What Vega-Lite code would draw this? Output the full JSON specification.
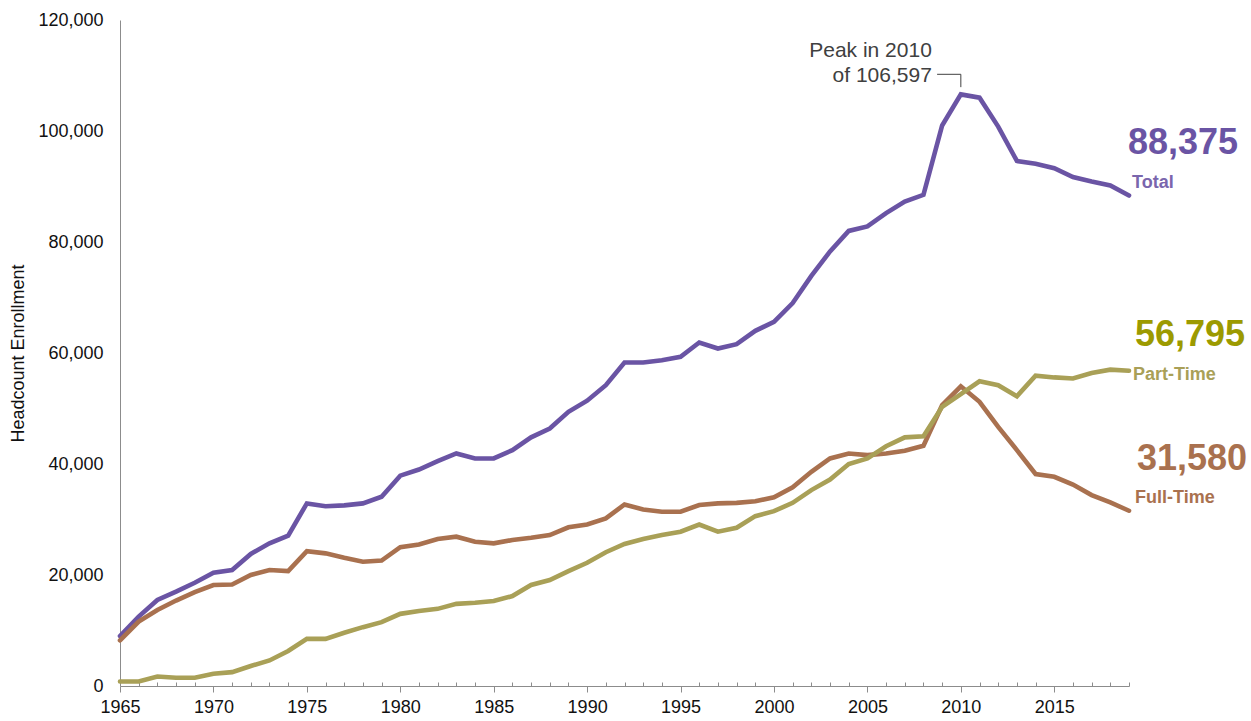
{
  "$schema": "https://vega.github.io/schema/vega-lite/v6.json",
  "autosize": {"type": "none"},
  "width": 1009,
  "height": 666,
  "padding": {"left": 120, "top": 20, "right": 122, "bottom": 35},
  "background": "white",
  "config": {
    "view": {"stroke": null},
    "font": "Liberation Sans",
    "axis": {"grid": false, "domainColor": "#8c8c8c", "domainWidth": 1, "labelColor": "#111111", "labelFontSize": 18, "labelFont": "Liberation Sans", "titleFont": "Liberation Sans"},
    "axisX": {"labelPadding": 6, "labelOverlap": false, "labelFlush": false, "tickColor": "#8c8c8c", "tickWidth": 1, "labelFontSize": 18},
    "axisY": {"labelPadding": 17, "ticks": false, "titleFontSize": 18, "titleFontWeight": "normal", "titleColor": "#111111", "labelFontSize": 18, "format": ","},
    "style": {"guide-label": {"fontSize": 18, "font": "Liberation Sans", "fill": "#111111"}, "guide-title": {"fontSize": 18, "font": "Liberation Sans", "fontWeight": "normal"}}
  },
  "datasets": {
    "enroll": [
      {"year":1965,"series":"Total","value":9000},{"year":1966,"series":"Total","value":12500},{"year":1967,"series":"Total","value":15500},{"year":1968,"series":"Total","value":17000},{"year":1969,"series":"Total","value":18600},{"year":1970,"series":"Total","value":20400},{"year":1971,"series":"Total","value":20900},{"year":1972,"series":"Total","value":23800},{"year":1973,"series":"Total","value":25700},{"year":1974,"series":"Total","value":27100},{"year":1975,"series":"Total","value":32900},{"year":1976,"series":"Total","value":32400},{"year":1977,"series":"Total","value":32550},{"year":1978,"series":"Total","value":32900},{"year":1979,"series":"Total","value":34100},{"year":1980,"series":"Total","value":37900},{"year":1981,"series":"Total","value":39000},{"year":1982,"series":"Total","value":40500},{"year":1983,"series":"Total","value":41900},{"year":1984,"series":"Total","value":41000},{"year":1985,"series":"Total","value":41000},{"year":1986,"series":"Total","value":42500},{"year":1987,"series":"Total","value":44800},{"year":1988,"series":"Total","value":46400},{"year":1989,"series":"Total","value":49400},{"year":1990,"series":"Total","value":51400},{"year":1991,"series":"Total","value":54200},{"year":1992,"series":"Total","value":58300},{"year":1993,"series":"Total","value":58300},{"year":1994,"series":"Total","value":58700},{"year":1995,"series":"Total","value":59300},{"year":1996,"series":"Total","value":61900},{"year":1997,"series":"Total","value":60800},{"year":1998,"series":"Total","value":61600},{"year":1999,"series":"Total","value":64000},{"year":2000,"series":"Total","value":65600},{"year":2001,"series":"Total","value":69000},{"year":2002,"series":"Total","value":73900},{"year":2003,"series":"Total","value":78300},{"year":2004,"series":"Total","value":82000},{"year":2005,"series":"Total","value":82800},{"year":2006,"series":"Total","value":85200},{"year":2007,"series":"Total","value":87300},{"year":2008,"series":"Total","value":88500},{"year":2009,"series":"Total","value":101000},{"year":2010,"series":"Total","value":106597},{"year":2011,"series":"Total","value":106000},{"year":2012,"series":"Total","value":100800},{"year":2013,"series":"Total","value":94600},{"year":2014,"series":"Total","value":94100},{"year":2015,"series":"Total","value":93300},{"year":2016,"series":"Total","value":91700},{"year":2017,"series":"Total","value":90900},{"year":2018,"series":"Total","value":90200},{"year":2019,"series":"Total","value":88375},
      {"year":1965,"series":"Full-Time","value":8200},{"year":1966,"series":"Full-Time","value":11600},{"year":1967,"series":"Full-Time","value":13700},{"year":1968,"series":"Full-Time","value":15400},{"year":1969,"series":"Full-Time","value":16900},{"year":1970,"series":"Full-Time","value":18200},{"year":1971,"series":"Full-Time","value":18300},{"year":1972,"series":"Full-Time","value":20000},{"year":1973,"series":"Full-Time","value":20900},{"year":1974,"series":"Full-Time","value":20700},{"year":1975,"series":"Full-Time","value":24300},{"year":1976,"series":"Full-Time","value":23900},{"year":1977,"series":"Full-Time","value":23100},{"year":1978,"series":"Full-Time","value":22400},{"year":1979,"series":"Full-Time","value":22600},{"year":1980,"series":"Full-Time","value":25000},{"year":1981,"series":"Full-Time","value":25500},{"year":1982,"series":"Full-Time","value":26500},{"year":1983,"series":"Full-Time","value":26900},{"year":1984,"series":"Full-Time","value":26000},{"year":1985,"series":"Full-Time","value":25700},{"year":1986,"series":"Full-Time","value":26300},{"year":1987,"series":"Full-Time","value":26700},{"year":1988,"series":"Full-Time","value":27200},{"year":1989,"series":"Full-Time","value":28600},{"year":1990,"series":"Full-Time","value":29100},{"year":1991,"series":"Full-Time","value":30200},{"year":1992,"series":"Full-Time","value":32700},{"year":1993,"series":"Full-Time","value":31800},{"year":1994,"series":"Full-Time","value":31400},{"year":1995,"series":"Full-Time","value":31400},{"year":1996,"series":"Full-Time","value":32600},{"year":1997,"series":"Full-Time","value":32900},{"year":1998,"series":"Full-Time","value":33000},{"year":1999,"series":"Full-Time","value":33300},{"year":2000,"series":"Full-Time","value":34000},{"year":2001,"series":"Full-Time","value":35800},{"year":2002,"series":"Full-Time","value":38600},{"year":2003,"series":"Full-Time","value":41000},{"year":2004,"series":"Full-Time","value":41900},{"year":2005,"series":"Full-Time","value":41600},{"year":2006,"series":"Full-Time","value":41900},{"year":2007,"series":"Full-Time","value":42400},{"year":2008,"series":"Full-Time","value":43300},{"year":2009,"series":"Full-Time","value":50600},{"year":2010,"series":"Full-Time","value":54000},{"year":2011,"series":"Full-Time","value":51200},{"year":2012,"series":"Full-Time","value":46700},{"year":2013,"series":"Full-Time","value":42500},{"year":2014,"series":"Full-Time","value":38200},{"year":2015,"series":"Full-Time","value":37700},{"year":2016,"series":"Full-Time","value":36300},{"year":2017,"series":"Full-Time","value":34400},{"year":2018,"series":"Full-Time","value":33100},{"year":2019,"series":"Full-Time","value":31580},
      {"year":1965,"series":"Part-Time","value":800},{"year":1966,"series":"Part-Time","value":800},{"year":1967,"series":"Part-Time","value":1700},{"year":1968,"series":"Part-Time","value":1500},{"year":1969,"series":"Part-Time","value":1500},{"year":1970,"series":"Part-Time","value":2200},{"year":1971,"series":"Part-Time","value":2500},{"year":1972,"series":"Part-Time","value":3600},{"year":1973,"series":"Part-Time","value":4600},{"year":1974,"series":"Part-Time","value":6300},{"year":1975,"series":"Part-Time","value":8500},{"year":1976,"series":"Part-Time","value":8500},{"year":1977,"series":"Part-Time","value":9600},{"year":1978,"series":"Part-Time","value":10600},{"year":1979,"series":"Part-Time","value":11500},{"year":1980,"series":"Part-Time","value":13000},{"year":1981,"series":"Part-Time","value":13500},{"year":1982,"series":"Part-Time","value":13900},{"year":1983,"series":"Part-Time","value":14800},{"year":1984,"series":"Part-Time","value":15000},{"year":1985,"series":"Part-Time","value":15300},{"year":1986,"series":"Part-Time","value":16200},{"year":1987,"series":"Part-Time","value":18200},{"year":1988,"series":"Part-Time","value":19100},{"year":1989,"series":"Part-Time","value":20700},{"year":1990,"series":"Part-Time","value":22200},{"year":1991,"series":"Part-Time","value":24100},{"year":1992,"series":"Part-Time","value":25600},{"year":1993,"series":"Part-Time","value":26500},{"year":1994,"series":"Part-Time","value":27200},{"year":1995,"series":"Part-Time","value":27800},{"year":1996,"series":"Part-Time","value":29100},{"year":1997,"series":"Part-Time","value":27800},{"year":1998,"series":"Part-Time","value":28500},{"year":1999,"series":"Part-Time","value":30600},{"year":2000,"series":"Part-Time","value":31500},{"year":2001,"series":"Part-Time","value":33000},{"year":2002,"series":"Part-Time","value":35300},{"year":2003,"series":"Part-Time","value":37200},{"year":2004,"series":"Part-Time","value":40000},{"year":2005,"series":"Part-Time","value":41000},{"year":2006,"series":"Part-Time","value":43200},{"year":2007,"series":"Part-Time","value":44800},{"year":2008,"series":"Part-Time","value":45000},{"year":2009,"series":"Part-Time","value":50300},{"year":2010,"series":"Part-Time","value":52600},{"year":2011,"series":"Part-Time","value":54900},{"year":2012,"series":"Part-Time","value":54200},{"year":2013,"series":"Part-Time","value":52200},{"year":2014,"series":"Part-Time","value":55900},{"year":2015,"series":"Part-Time","value":55600},{"year":2016,"series":"Part-Time","value":55400},{"year":2017,"series":"Part-Time","value":56400},{"year":2018,"series":"Part-Time","value":57000},{"year":2019,"series":"Part-Time","value":56795}
    ],
    "connector": [
      {"year": 2008.73, "value": 110216, "order": 1},
      {"year": 2010, "value": 110216, "order": 2},
      {"year": 2010, "value": 107900, "order": 3}
    ]
  },
  "encoding": {
    "x": {
      "field": "year", "type": "quantitative",
      "scale": {"domain": [1965, 2019], "nice": false, "zero": false},
      "axis": {
        "title": null,
        "values": [1965,1966,1967,1968,1969,1970,1971,1972,1973,1974,1975,1976,1977,1978,1979,1980,1981,1982,1983,1984,1985,1986,1987,1988,1989,1990,1991,1992,1993,1994,1995,1996,1997,1998,1999,2000,2001,2002,2003,2004,2005,2006,2007,2008,2009,2010,2011,2012,2013,2014,2015,2016,2017,2018,2019],
        "labelExpr": "datum.value % 5 === 0 ? format(datum.value, 'd') : ''",
        "labelFontSize": 18,
        "labelOverlap": false,
        "tickSize": {"condition": {"test": "datum.value % 5 === 0", "value": 6}, "value": -4},
        "encode": {"labels": {"update": {"fontSize": {"value": 18}}}}
      }
    },
    "y": {
      "field": "value", "type": "quantitative",
      "scale": {"domain": [0, 120000], "nice": false},
      "axis": {
        "title": "Headcount Enrollment",
        "titleX": -102,
        "titleY": 333,
        "titleAngle": -90,
        "titleAlign": "center",
        "titleBaseline": "middle",
        "titleFontSize": 18,
        "values": [0, 20000, 40000, 60000, 80000, 100000, 120000],
        "labelExpr": "format(datum.value, ',')",
        "labelFontSize": 18,
        "encode": {"labels": {"update": {"fontSize": {"value": 18}}}}
      }
    }
  },
  "layer": [
    {
      "data": {"name": "enroll"},
      "mark": {"type": "line", "strokeWidth": 4.6, "strokeCap": "round"},
      "encoding": {
        "color": {
          "field": "series", "type": "nominal",
          "scale": {"domain": ["Total", "Part-Time", "Full-Time"], "range": ["#6a54a4", "#a9a057", "#a9714f"]},
          "legend": null
        }
      }
    },
    {
      "data": {"name": "connector"},
      "mark": {"type": "line", "color": "#404040", "strokeWidth": 1},
      "encoding": {
        "order": {"field": "order"}
      }
    },
    {
      "data": {"name": "enroll"},
      "transform": [{"filter": "datum.year === 2010 && datum.series === 'Total'"}],
      "mark": {"type": "text", "text": "Peak in 2010", "align": "right", "baseline": "alphabetic", "dx": -29, "dy": -37.7, "fontSize": 21, "color": "#404040"},
      "encoding": {}
    },
    {
      "data": {"name": "enroll"},
      "transform": [{"filter": "datum.year === 2010 && datum.series === 'Total'"}],
      "mark": {"type": "text", "text": "of 106,597", "align": "right", "baseline": "alphabetic", "dx": -29, "dy": -12.7, "fontSize": 21, "color": "#404040"},
      "encoding": {}
    },
    {
      "data": {"name": "enroll"},
      "transform": [{"filter": "datum.year === 2019 && datum.series === 'Total'"}],
      "mark": {"type": "text", "align": "left", "baseline": "alphabetic", "dx": -1, "dy": -42, "fontSize": 36, "fontWeight": "bold", "color": "#6a54a4"},
      "encoding": {
        "text": {"field": "value", "type": "quantitative", "format": ","}
      }
    },
    {
      "data": {"name": "enroll"},
      "transform": [{"filter": "datum.year === 2019 && datum.series === 'Total'"}],
      "mark": {"type": "text", "align": "left", "baseline": "alphabetic", "dx": 3, "dy": -8, "fontSize": 18, "fontWeight": "bold", "color": "#7a66ad"},
      "encoding": {
        "text": {"field": "series", "type": "nominal"}
      }
    },
    {
      "data": {"name": "enroll"},
      "transform": [{"filter": "datum.year === 2019 && datum.series === 'Part-Time'"}],
      "mark": {"type": "text", "align": "left", "baseline": "alphabetic", "dx": 6, "dy": -25, "fontSize": 36, "fontWeight": "bold", "color": "#9c9a00"},
      "encoding": {
        "text": {"field": "value", "type": "quantitative", "format": ","}
      }
    },
    {
      "data": {"name": "enroll"},
      "transform": [{"filter": "datum.year === 2019 && datum.series === 'Part-Time'"}],
      "mark": {"type": "text", "align": "left", "baseline": "alphabetic", "dx": 4, "dy": 9, "fontSize": 18, "fontWeight": "bold", "color": "#a9a057"},
      "encoding": {
        "text": {"field": "series", "type": "nominal"}
      }
    },
    {
      "data": {"name": "enroll"},
      "transform": [{"filter": "datum.year === 2019 && datum.series === 'Full-Time'"}],
      "mark": {"type": "text", "align": "left", "baseline": "alphabetic", "dx": 8, "dy": -41, "fontSize": 36, "fontWeight": "bold", "color": "#a9714f"},
      "encoding": {
        "text": {"field": "value", "type": "quantitative", "format": ","}
      }
    },
    {
      "data": {"name": "enroll"},
      "transform": [{"filter": "datum.year === 2019 && datum.series === 'Full-Time'"}],
      "mark": {"type": "text", "align": "left", "baseline": "alphabetic", "dx": 6, "dy": -8, "fontSize": 18, "fontWeight": "bold", "color": "#a9714f"},
      "encoding": {
        "text": {"field": "series", "type": "nominal"}
      }
    }
  ]
}
